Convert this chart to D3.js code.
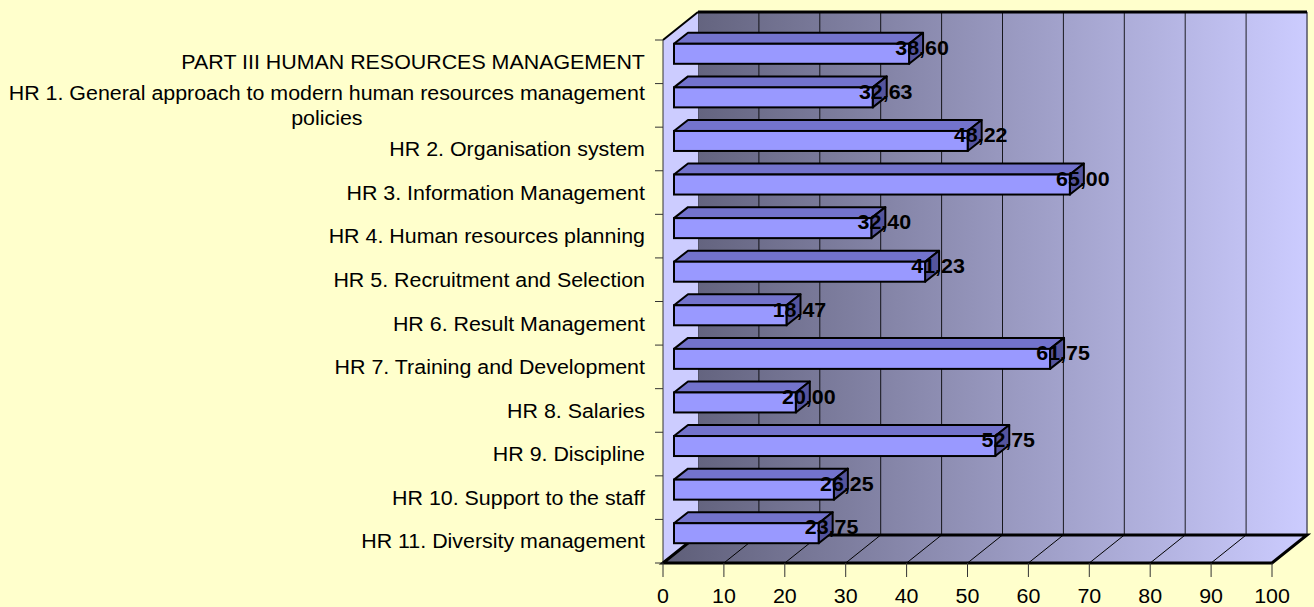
<!DOCTYPE html>
<html>
<head>
<meta charset="utf-8">
<script src="https://cdn.jsdelivr.net/npm/d3@7"></script>
<style>
  body { margin: 0; background: #ffffcc; }
  svg { display: block; }
  text { font-family: Arial, "Liberation Sans", sans-serif; fill: #000; }
</style>
</head>
<body>
<svg id="chart" width="1314" height="607"></svg>
<script>
// categories, top to bottom
var categories = [
  "PART III HUMAN RESOURCES MANAGEMENT",
  "HR 1. General approach to modern human resources management policies",
  "HR 2. Organisation system",
  "HR 3. Information Management",
  "HR 4. Human resources planning",
  "HR 5. Recruitment and Selection",
  "HR 6. Result Management",
  "HR 7. Training and Development",
  "HR 8. Salaries",
  "HR 9. Discipline",
  "HR 10. Support to the staff",
  "HR 11. Diversity management"
];
var values = [38.60, 32.63, 48.22, 65.00, 32.40, 41.23, 18.47, 61.75, 20.00, 52.75, 26.25, 23.75];
var xTickValues = [0, 10, 20, 30, 40, 50, 60, 70, 80, 90, 100];

var svg = d3.select("#chart");

// plot box (front face) and 3d depth
var front = { left: 663, right: 1272, top: 40, bottom: 563 };
var depth = { dx: 35, dy: -28 };
// bar placement inside the depth
var barShift = { dx: 11, dy: -8 };
var barDepth = { dx: 14, dy: -11 };
var barHalf = 10;
// the text in the picture is a bit wider than plain Arial
var textStretch = 1.07;

var x = d3.scaleLinear().domain([0, 100]).range([front.left, front.right]);
var y = d3.scaleBand().domain(categories).range([front.top, front.bottom]);

var defs = svg.append("defs");
function grad(id, c0, c1) {
  var g = defs.append("linearGradient").attr("id", id)
    .attr("gradientUnits", "userSpaceOnUse")
    .attr("x1", front.left).attr("x2", front.right + depth.dx)
    .attr("y1", 0).attr("y2", 0);
  g.append("stop").attr("offset", "0%").attr("stop-color", c0);
  g.append("stop").attr("offset", "100%").attr("stop-color", c1);
}
grad("wallGrad", "#5e5e78", "#ccccff");
grad("floorGrad", "#5e5e78", "#ccccff");

function pts(arr) { return arr.map(function(p) { return p.join(","); }).join(" "); }
function place(px, py) { return "translate(" + px + "," + py + ") scale(" + textStretch + ",1)"; }

var bx0 = front.left + depth.dx, bx1 = front.right + depth.dx;
var by0 = front.top + depth.dy, by1 = front.bottom + depth.dy;

// back wall
svg.append("rect")
  .attr("x", bx0).attr("y", by0)
  .attr("width", bx1 - bx0).attr("height", by1 - by0)
  .attr("fill", "url(#wallGrad)")
  .attr("stroke", "#b8b8e8").attr("stroke-width", 1);

// back wall gridlines
svg.append("g").selectAll("line")
  .data(xTickValues)
  .enter().append("line")
  .attr("x1", function(d) { return x(d) + depth.dx; })
  .attr("x2", function(d) { return x(d) + depth.dx; })
  .attr("y1", by0).attr("y2", by1)
  .attr("stroke", "#000").attr("stroke-opacity", 0.85).attr("stroke-width", 1);

svg.append("line")
  .attr("x1", bx0).attr("x2", bx1).attr("y1", by0).attr("y2", by0)
  .attr("stroke", "#000").attr("stroke-width", 3);

// left side wall
svg.append("polygon")
  .attr("points", pts([[front.left, front.top], [bx0, by0], [bx0, by1], [front.left, front.bottom]]))
  .attr("fill", "#ccccff");
svg.append("line")
  .attr("x1", front.left).attr("y1", front.top).attr("x2", bx0).attr("y2", by0)
  .attr("stroke", "#000").attr("stroke-width", 2);
svg.append("line")
  .attr("x1", front.left).attr("y1", front.top).attr("x2", front.left).attr("y2", front.bottom)
  .attr("stroke", "#333").attr("stroke-width", 1);

// floor
svg.append("polygon")
  .attr("points", pts([[front.left, front.bottom], [bx0, by1], [bx1, by1], [front.right, front.bottom]]))
  .attr("fill", "url(#floorGrad)");
svg.append("g").selectAll("line")
  .data(xTickValues)
  .enter().append("line")
  .attr("x1", function(d) { return x(d); })
  .attr("y1", front.bottom)
  .attr("x2", function(d) { return x(d) + depth.dx; })
  .attr("y2", by1)
  .attr("stroke", "#000").attr("stroke-width", 1);
svg.append("polygon")
  .attr("points", pts([[front.left, front.bottom], [bx0, by1], [bx1, by1], [front.right, front.bottom]]))
  .attr("fill", "none").attr("stroke", "#000").attr("stroke-width", 3)
  .attr("stroke-linejoin", "miter");

// axes ticks
svg.append("g").selectAll("line")
  .data(xTickValues)
  .enter().append("line")
  .attr("x1", function(d) { return x(d); }).attr("x2", function(d) { return x(d); })
  .attr("y1", front.bottom).attr("y2", front.bottom + 14)
  .attr("stroke", "#333").attr("stroke-width", 1);

svg.append("g").selectAll("text")
  .data(xTickValues)
  .enter().append("text")
  .attr("transform", function(d) { return place(x(d), front.bottom + 33); })
  .attr("text-anchor", "middle")
  .attr("dominant-baseline", "central")
  .style("font-size", "20px")
  .text(function(d) { return d; });

var yTickPos = categories.map(function(c) { return y(c); }).concat([front.bottom]);
svg.append("g").selectAll("line")
  .data(yTickPos)
  .enter().append("line")
  .attr("x1", front.left - 8).attr("x2", front.left)
  .attr("y1", function(d) { return d; }).attr("y2", function(d) { return d; })
  .attr("stroke", "#333").attr("stroke-width", 1);

// category labels, wrapped and centered as a block, right-aligned
var labelRight = 645;
var maxLabelWidth = 645;
var lineH = 25;
var labels = svg.append("g").style("font-size", "20px");
categories.forEach(function(cat) {
  var words = cat.split(" ");
  var probe = labels.append("text");
  var measure = function(s) { probe.text(s); return probe.node().getComputedTextLength() * textStretch; };
  var lines = [];
  var cur = "";
  words.forEach(function(w) {
    var trial = cur ? cur + " " + w : w;
    if (measure(trial) > maxLabelWidth && cur) {
      lines.push(cur);
      cur = w;
    } else {
      cur = trial;
    }
  });
  lines.push(cur);
  var blockW = d3.max(lines.map(measure));
  probe.remove();
  var cy = y(cat) + y.bandwidth() / 2;
  lines.forEach(function(l, i) {
    labels.append("text")
      .attr("transform", place(labelRight - blockW / 2, cy + (i - (lines.length - 1) / 2) * lineH))
      .attr("text-anchor", "middle")
      .attr("dominant-baseline", "central")
      .text(l);
  });
});

// 3d bars
var bars = svg.append("g").selectAll("g")
  .data(categories.map(function(c, i) { return { cat: c, value: values[i] }; }))
  .enter().append("g");

function barGeom(d) {
  var cy = y(d.cat) + y.bandwidth() / 2 + barShift.dy;
  return {
    x0: x(0) + barShift.dx,
    x1: x(d.value) + barShift.dx,
    t: cy - barHalf,
    b: cy + barHalf
  };
}

bars.append("polygon")
  .attr("points", function(d) {
    var g = barGeom(d);
    return pts([[g.x0, g.t], [g.x0 + barDepth.dx, g.t + barDepth.dy], [g.x1 + barDepth.dx, g.t + barDepth.dy], [g.x1, g.t]]);
  })
  .attr("fill", "#7373cc").attr("stroke", "#000").attr("stroke-width", 2).attr("stroke-linejoin", "round");

bars.append("polygon")
  .attr("points", function(d) {
    var g = barGeom(d);
    return pts([[g.x1, g.t], [g.x1 + barDepth.dx, g.t + barDepth.dy], [g.x1 + barDepth.dx, g.b + barDepth.dy], [g.x1, g.b]]);
  })
  .attr("fill", "#55559e").attr("stroke", "#000").attr("stroke-width", 2).attr("stroke-linejoin", "round");

bars.append("rect")
  .attr("x", function(d) { return barGeom(d).x0; })
  .attr("y", function(d) { return barGeom(d).t; })
  .attr("width", function(d) { var g = barGeom(d); return g.x1 - g.x0; })
  .attr("height", barHalf * 2)
  .attr("fill", "#9999ff").attr("stroke", "#000").attr("stroke-width", 2);

// value labels
var fmt = d3.format(".2f");
bars.append("text")
  .attr("transform", function(d) { return place(x(d.value) + 24, y(d.cat) + y.bandwidth() / 2 - 14); })
  .attr("text-anchor", "middle")
  .attr("dominant-baseline", "central")
  .style("font-size", "20px")
  .style("font-weight", "bold")
  .text(function(d) { return fmt(d.value).replace(".", ","); });
</script>
</body>
</html>
